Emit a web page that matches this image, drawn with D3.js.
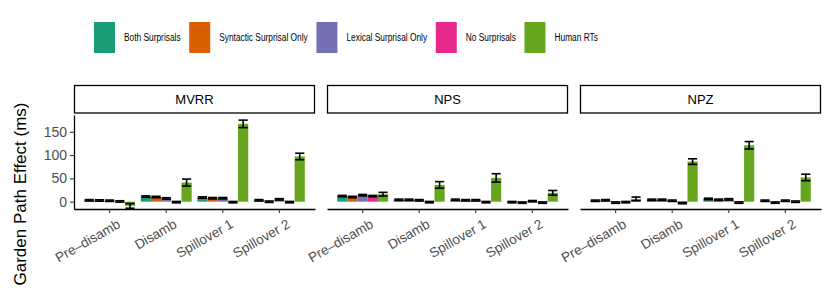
<!DOCTYPE html>
<html>
<head>
<meta charset="utf-8">
<script src="https://cdn.jsdelivr.net/npm/d3@7"></script>
<style>
  body { margin: 0; background: #fff; }
  text { font-family: "Liberation Sans", Arial, sans-serif; }
</style>
</head>
<body>
<svg id="chart" width="833" height="305"></svg>
<script>
// valores
var regiones = ["Pre–disamb", "Disamb", "Spillover 1", "Spillover 2"];
var condiciones = ["Both Surprisals", "Syntactic Surprisal Only", "Lexical Surprisal Only", "No Surprisals", "Human RTs"];
var colores = ["#1B9E77", "#D95F02", "#7570B3", "#E7298A", "#66A61E"];
var construcciones = ["MVRR", "NPS", "NPZ"];
var yTicks = [0, 50, 100, 150];

// efecto por region (filas) y condicion (columnas)
var efectoMVRR = [
    [3, 2.5, 2, 0.5, -9],
    [11, 10, 7, -1, 41],
    [9, 7.5, 7.5, -1, 167],
    [3, 0, 5, -1, 97]
];
var errorMVRR = [
    [1.5, 1.5, 1.5, 1.5, 5],
    [1.5, 1.5, 1.5, 1.5, 7.5],
    [1.5, 1.5, 1.5, 1.5, 8],
    [1.5, 1.5, 1.5, 1.5, 7]
];
var efectoNPS = [
    [12, 10, 14, 12, 16],
    [4, 4, 3, -1, 36],
    [4, 3, 3, -1, 51],
    [-1, -2, 1, -2, 19]
];
var errorNPS = [
    [1.5, 1.5, 1.5, 1.5, 4],
    [1.5, 1.5, 1.5, 1.5, 7],
    [1.5, 1.5, 1.5, 1.5, 9],
    [1.5, 1.5, 1.5, 1.5, 5]
];
var efectoNPZ = [
    [2, 3, -2, -1, 6],
    [4, 4, 2, -3, 86],
    [6, 4, 5, -2, 121],
    [2, -2, 2, 0, 52]
];
var errorNPZ = [
    [1.5, 1.5, 1.5, 1.5, 4],
    [1.5, 1.5, 1.5, 1.5, 6],
    [1.5, 1.5, 1.5, 1.5, 8],
    [1.5, 1.5, 1.5, 1.5, 7]
];

var efectos = [efectoMVRR, efectoNPS, efectoNPZ];
var errores = [errorMVRR, errorNPS, errorNPZ];

var svg = d3.select("#chart");
var paneles = [[74, 315], [327, 568], [580, 821]];
var panelTop = 115, panelBottom = 209;
var gris = "#4D4D4D";

var y = d3.scaleLinear().domain([-15.7, 186]).range([panelBottom, panelTop]);
var color = d3.scaleOrdinal().domain(condiciones).range(colores);

// leyenda
var leyenda = svg.append("g").attr("class", "leyenda");
var lx = 94;
condiciones.forEach(function (c) {
    leyenda.append("rect")
        .attr("x", lx).attr("y", 22)
        .attr("width", 21).attr("height", 31)
        .attr("fill", color(c));
    var t = leyenda.append("text")
        .attr("y", 37.5)
        .attr("dy", "0.35em")
        .attr("font-size", 11)
        .attr("fill", "#000")
        .text(c);
    var w = t.node().getComputedTextLength() * 0.76;
    t.attr("transform", "translate(" + (lx + 30) + ",0) scale(0.76,1)");
    lx = lx + 30 + w + 8.5;
});

construcciones.forEach(function (nombre, p) {
    var x0 = paneles[p][0], x1 = paneles[p][1];
    var g = svg.append("g");

    // strip
    g.append("rect")
        .attr("x", x0 + 0.5).attr("y", 85.5)
        .attr("width", x1 - x0 - 1).attr("height", 27.5)
        .attr("fill", "#fff").attr("stroke", "#000").attr("stroke-width", 1.3);
    g.append("text")
        .attr("x", (x0 + x1) / 2).attr("y", 99.5)
        .attr("dy", "0.35em")
        .attr("text-anchor", "middle")
        .attr("font-size", 13)
        .text(nombre);

    var x = d3.scaleBand().domain(regiones).range([x0, x1])
        .paddingInner(0.1).paddingOuter(0.18);
    var xc = d3.scaleBand().domain(condiciones).range([0, x.bandwidth()]);

    var datos = [];
    regiones.forEach(function (r, i) {
        condiciones.forEach(function (c, j) {
            datos.push({ region: r, condicion: c, valor: efectos[p][i][j], se: errores[p][i][j] });
        });
    });

    g.selectAll("rect.barra").data(datos).enter().append("rect")
        .attr("class", "barra")
        .attr("x", function (d) { return x(d.region) + xc(d.condicion); })
        .attr("width", xc.bandwidth())
        .attr("y", function (d) { return y(Math.max(0, d.valor)); })
        .attr("height", function (d) { return Math.abs(y(d.valor) - y(0)); })
        .attr("fill", function (d) { return color(d.condicion); });

    // barras de error
    var eb = g.selectAll("g.error").data(datos).enter().append("g").attr("class", "error")
        .attr("stroke", "#000").attr("stroke-width", 1.6).attr("fill", "none");
    eb.append("line")
        .attr("x1", function (d) { return x(d.region) + xc(d.condicion) + xc.bandwidth() / 2; })
        .attr("x2", function (d) { return x(d.region) + xc(d.condicion) + xc.bandwidth() / 2; })
        .attr("y1", function (d) { return y(d.valor - d.se); })
        .attr("y2", function (d) { return y(d.valor + d.se); });
    [-1, 1].forEach(function (s) {
        eb.append("line")
            .attr("x1", function (d) { return x(d.region) + xc(d.condicion) + 0.5; })
            .attr("x2", function (d) { return x(d.region) + xc(d.condicion) + xc.bandwidth() - 0.5; })
            .attr("y1", function (d) { return y(d.valor + s * d.se); })
            .attr("y2", function (d) { return y(d.valor + s * d.se); });
    });

    // eje x
    var ejeX = g.append("g")
        .attr("transform", "translate(0," + panelBottom + ")")
        .call(d3.axisBottom(x).tickSize(4).tickSizeOuter(0).tickPadding(3));
    ejeX.select(".domain").attr("stroke", "#000").attr("stroke-width", 1.3);
    ejeX.selectAll(".tick line").attr("stroke", "#333").attr("stroke-width", 1.1);
    ejeX.selectAll(".tick text")
        .attr("font-size", 13.5)
        .attr("font-family", "Liberation Sans, Arial, sans-serif")
        .attr("fill", gris)
        .attr("text-anchor", "end")
        .attr("dy", "0.75em")
        .attr("transform", "translate(3,3) rotate(-30)");

    if (p === 0) {
        var ejeY = g.append("g")
            .attr("transform", "translate(" + x0 + ",0)")
            .call(d3.axisLeft(y).tickValues(yTicks).tickSize(4).tickSizeOuter(0).tickPadding(3));
        ejeY.select(".domain").attr("stroke", "#000").attr("stroke-width", 1.3);
        ejeY.selectAll(".tick line").attr("stroke", "#333").attr("stroke-width", 1.1);
        ejeY.selectAll(".tick text")
            .attr("font-size", 14)
            .attr("font-family", "Liberation Sans, Arial, sans-serif")
            .attr("fill", gris);
    }
});

// titulo eje y
svg.append("text")
    .attr("transform", "translate(26,194) rotate(-90)")
    .attr("text-anchor", "middle")
    .attr("font-size", 17)
    .text("Garden Path Effect (ms)");
</script>
</body>
</html>
